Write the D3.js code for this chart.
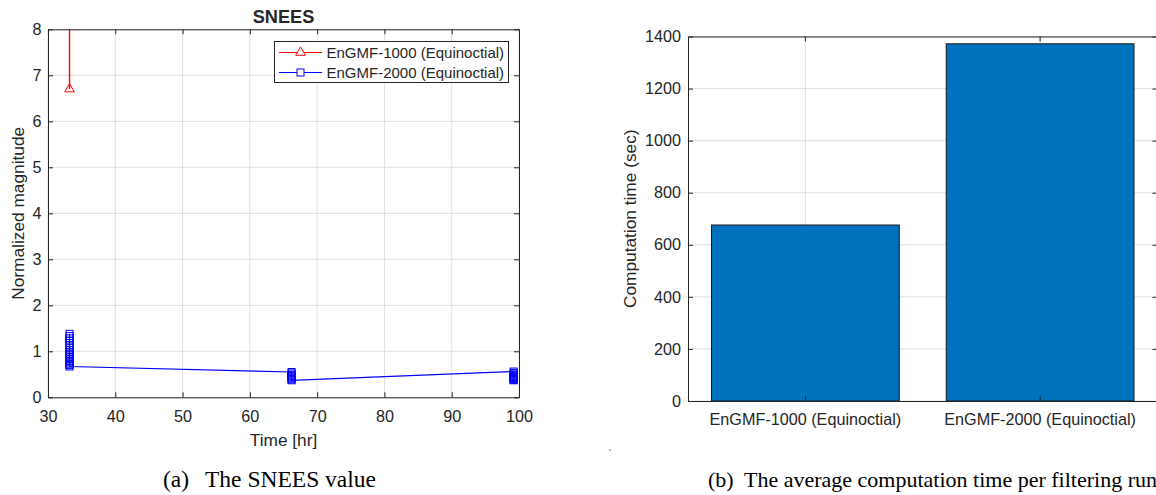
<!DOCTYPE html>
<html>
<head>
<meta charset="utf-8">
<script src="https://cdn.jsdelivr.net/npm/d3@7"></script>
<style>
  html, body { margin: 0; padding: 0; background: #ffffff; }
  svg { display: block; }
  text { font-family: "Liberation Sans", Arial, Helvetica, sans-serif; fill: #262626; }
  .cap { font-family: "Liberation Serif", "Times New Roman", serif; fill: #000; }
</style>
</head>
<body>
<svg id="chart" width="1156" height="495"></svg>
<script>
// ---------------- DATA ----------------
// (a) SNEES
const timeRed  = [33.2, 33.2, 33.2];
const snesRed  = [41.8, 17.5, 6.7];
const timeBlue = [33.2, 33.2, 33.2, 33.2, 33.2, 33.2, 33.2, 33.2, 33.2, 33.2, 33.2, 33.2, 33.2, 33.2, 33.2, 33.2, 33.2, 33.2,
                  66.2, 66.2, 66.2, 66.2, 66.2, 66.2, 66.2, 66.2, 66.2,
                  99.2, 99.2, 99.2, 99.2, 99.2, 99.2, 99.2, 99.2, 99.2, 99.2];
const snesBlue = [1.38, 1.33, 1.28, 1.23, 1.18, 1.13, 1.08, 1.03, 0.99, 0.95, 0.91, 0.87, 0.83, 0.79, 0.76, 0.73, 0.70, 0.67,
                  0.55, 0.52, 0.49, 0.47, 0.45, 0.43, 0.41, 0.39, 0.37,
                  0.56, 0.53, 0.50, 0.48, 0.46, 0.44, 0.42, 0.40, 0.38, 0.37];
const seriesNames = ["EnGMF-1000 (Equinoctial)", "EnGMF-2000 (Equinoctial)"];
const xTicksA = [30, 40, 50, 60, 70, 80, 90, 100];
const yTicksA = [0, 1, 2, 3, 4, 5, 6, 7, 8];
const titleA = "SNEES";
const xLabelA = "Time [hr]";
const yLabelA = "Normalized magnitude";
const captionA = ["(a)", "The SNEES value"];

// (b) computation time
const categories = ["EnGMF-1000 (Equinoctial)", "EnGMF-2000 (Equinoctial)"];
const compTime = [676, 1372];
const yTicksB = [0, 200, 400, 600, 800, 1000, 1200, 1400];
const yLabelB = "Computation time (sec)";
const captionB = ["(b)", "The average computation time per filtering run"];

// ---------------- STYLE ----------------
const AX = "#262626", GRID = "#dfdfdf";
const tickFont = 16.2, labelFont = 17.3;

const svg = d3.select("#chart");

function styleAxes(list) {
  list.forEach(a => {
    a.selectAll("path.domain").attr("stroke", AX).attr("stroke-width", 1);
    a.selectAll(".tick line").attr("stroke", AX).attr("stroke-width", 1);
    a.selectAll("text").attr("fill", AX).style("font-size", tickFont + "px")
      .style("font-family", '"Liberation Sans", Arial, Helvetica, sans-serif');
  });
}

// ---------------- (a) ----------------
{
  const L = 48, T = 29.3, R = 519, B = 397.3;
  const W = R - L, H = B - T;
  const g = svg.append("g").attr("transform", `translate(${L},${T})`);
  const x = d3.scaleLinear().domain([30, 100]).range([0, W]);
  const y = d3.scaleLinear().domain([0, 8]).range([H, 0]);

  g.append("g").selectAll("line").data(xTicksA).join("line")
    .attr("x1", d => x(d)).attr("x2", d => x(d)).attr("y1", 0).attr("y2", H)
    .attr("stroke", GRID).attr("stroke-width", 1);
  g.append("g").selectAll("line").data(yTicksA).join("line")
    .attr("x1", 0).attr("x2", W).attr("y1", d => y(d)).attr("y2", d => y(d))
    .attr("stroke", GRID).attr("stroke-width", 1);

  g.append("clipPath").attr("id", "clipA").append("rect")
    .attr("x", 0).attr("y", 0).attr("width", W).attr("height", H);
  const plot = g.append("g").attr("clip-path", "url(#clipA)");

  const line = d3.line().x(d => x(d[0])).y(d => y(d[1]));
  const red = timeRed.map((t, i) => [t, snesRed[i]]);
  const blue = timeBlue.map((t, i) => [t, snesBlue[i]]);

  plot.append("path").datum(red).attr("d", line)
    .attr("fill", "none").attr("stroke", "#ff0000").attr("stroke-width", 1.4);
  plot.append("path").datum(blue).attr("d", line)
    .attr("fill", "none").attr("stroke", "#0000ff").attr("stroke-width", 1.2);

  const tri = d3.symbol(d3.symbolTriangle, 40);
  plot.selectAll("path.tri").data(red).join("path").attr("class", "tri")
    .attr("d", tri).attr("transform", d => `translate(${x(d[0])},${y(d[1])})`)
    .attr("fill", "none").attr("stroke", "#ff0000").attr("stroke-width", 1);
  const sq = 7;
  plot.selectAll("rect.sq").data(blue).join("rect").attr("class", "sq")
    .attr("x", d => x(d[0]) - sq / 2).attr("y", d => y(d[1]) - sq / 2)
    .attr("width", sq).attr("height", sq)
    .attr("fill", "none").attr("stroke", "#0000ff").attr("stroke-width", 1);

  const bottom = g.append("g").attr("transform", `translate(0,${H})`)
    .call(d3.axisBottom(x).tickValues(xTicksA).tickFormat(d3.format("d")).tickSizeInner(-5).tickSizeOuter(0).tickPadding(12.8));
  const top = g.append("g")
    .call(d3.axisTop(x).tickValues(xTicksA).tickFormat("").tickSizeInner(-5).tickSizeOuter(0));
  const left = g.append("g")
    .call(d3.axisLeft(y).tickValues(yTicksA).tickFormat(d3.format("d")).tickSizeInner(-5).tickSizeOuter(0).tickPadding(6.5));
  const right = g.append("g").attr("transform", `translate(${W},0)`)
    .call(d3.axisRight(y).tickValues(yTicksA).tickFormat("").tickSizeInner(-5).tickSizeOuter(0));
  styleAxes([bottom, top, left, right]);

  svg.append("text").attr("x", L + W / 2).attr("y", 22.5).attr("text-anchor", "middle")
    .style("font-size", "18.2px").style("font-weight", "bold").attr("fill", "#000").text(titleA);
  svg.append("text").attr("x", L + W / 2).attr("y", 445.5).attr("text-anchor", "middle")
    .style("font-size", labelFont + "px").text(xLabelA);
  svg.append("text").attr("transform", `translate(23.5,${T + H / 2}) rotate(-90)`)
    .attr("text-anchor", "middle").style("font-size", labelFont + "px").text(yLabelA);

  // legend
  const lg = svg.append("g");
  lg.append("rect").attr("x", 274.5).attr("y", 41.5).attr("width", 234).attr("height", 41)
    .attr("fill", "#fff").attr("stroke", AX).attr("stroke-width", 1);
  const rows = [{ c: "#ff0000", m: "tri", yy: 52.5 }, { c: "#0000ff", m: "sq", yy: 72.5 }];
  rows.forEach((r, i) => {
    lg.append("line").attr("x1", 279).attr("x2", 322).attr("y1", r.yy).attr("y2", r.yy)
      .attr("stroke", r.c).attr("stroke-width", 1.2);
    if (r.m === "tri") {
      lg.append("path").attr("d", tri).attr("transform", `translate(300.5,${r.yy})`)
        .attr("fill", "#fff").attr("stroke", r.c).attr("stroke-width", 1);
    } else {
      lg.append("rect").attr("x", 300.5 - sq / 2).attr("y", r.yy - sq / 2).attr("width", sq).attr("height", sq)
        .attr("fill", "#fff").attr("stroke", r.c).attr("stroke-width", 1);
    }
    lg.append("text").attr("x", 326.5).attr("y", r.yy).attr("dy", "0.35em")
      .style("font-size", "15px").attr("fill", "#000").text(seriesNames[i]);
  });

  svg.append("text").attr("class", "cap").attr("x", 163).attr("y", 487)
    .style("font-size", "23.5px").text(captionA[0]);
  svg.append("text").attr("class", "cap").attr("x", 205).attr("y", 487)
    .style("font-size", "23.5px").text(captionA[1]);
}

// ---------------- (b) ----------------
{
  const L = 688, T = 36.5, R = 1157.5, B = 401;
  const W = R - L, H = B - T;
  const g = svg.append("g").attr("transform", `translate(${L},${T})`);
  const x = d3.scaleBand().domain(categories).range([0, W]).paddingInner(0.2).paddingOuter(0.1);
  const xc = d => x(d) + x.bandwidth() / 2;
  const y = d3.scaleLinear().domain([0, 1400]).range([H, 0]);

  g.append("g").selectAll("line").data(categories).join("line")
    .attr("x1", d => xc(d)).attr("x2", d => xc(d)).attr("y1", 0).attr("y2", H)
    .attr("stroke", GRID).attr("stroke-width", 1);
  g.append("g").selectAll("line").data(yTicksB).join("line")
    .attr("x1", 0).attr("x2", W).attr("y1", d => y(d)).attr("y2", d => y(d))
    .attr("stroke", GRID).attr("stroke-width", 1);

  g.selectAll("rect.bar").data(categories).join("rect").attr("class", "bar")
    .attr("x", d => x(d)).attr("width", x.bandwidth())
    .attr("y", (d, i) => y(compTime[i])).attr("height", (d, i) => H - y(compTime[i]))
    .attr("fill", "#0072BD").attr("stroke", "#1a1a1a").attr("stroke-width", 1);

  const bottom = g.append("g").attr("transform", `translate(0,${H})`)
    .call(d3.axisBottom(x).tickSizeInner(-5).tickSizeOuter(0).tickPadding(12.8));
  const top = g.append("g")
    .call(d3.axisTop(x).tickFormat("").tickSizeInner(-5).tickSizeOuter(0));
  const left = g.append("g")
    .call(d3.axisLeft(y).tickValues(yTicksB).tickFormat(d3.format("d")).tickSizeInner(-5).tickSizeOuter(0).tickPadding(7));
  const right = g.append("g").attr("transform", `translate(${W},0)`)
    .call(d3.axisRight(y).tickValues(yTicksB).tickFormat("").tickSizeInner(-5).tickSizeOuter(0));
  styleAxes([bottom, top, left, right]);

  svg.append("text").attr("transform", `translate(636,${T + H / 2}) rotate(-90)`)
    .attr("text-anchor", "middle").style("font-size", labelFont + "px").text(yLabelB);

  // stray speck present in the source image
  svg.append("rect").attr("x", 609).attr("y", 449).attr("width", 2).attr("height", 2).attr("fill", "#bbbbbb");

  svg.append("text").attr("class", "cap").attr("x", 708).attr("y", 487)
    .style("font-size", "22px").text(captionB[0]);
  svg.append("text").attr("class", "cap").attr("x", 744).attr("y", 487)
    .style("font-size", "22px").text(captionB[1]);
}
</script>
</body>
</html>
